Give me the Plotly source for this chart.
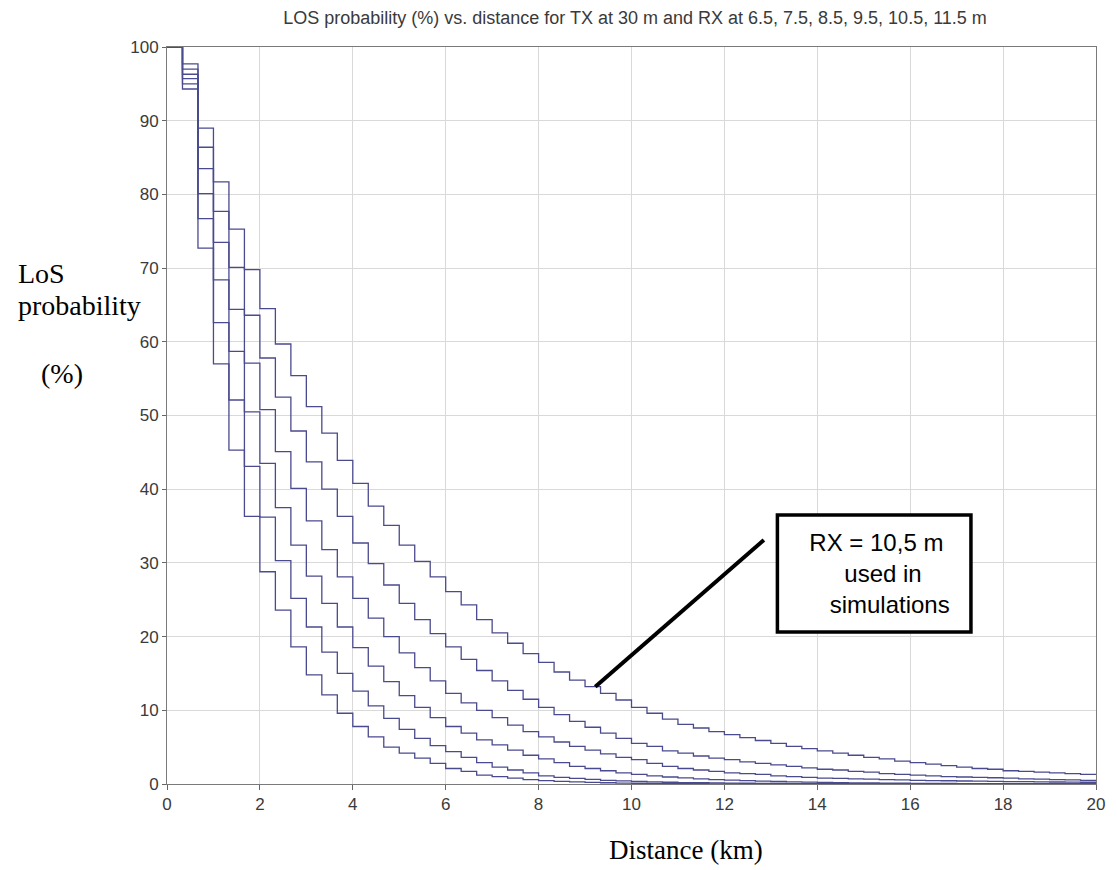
import plotly.graph_objects as go

# Distance steps (km): each plateau lasts 1/3 km, 60 plateaus from 0 to 20 km
step_start_km = [k / 3 for k in range(60)]
x_end_km = 20

rx_heights = ["6.5 m", "7.5 m", "8.5 m", "9.5 m", "10.5 m", "11.5 m"]

los_rx_6_5 = [100, 94.3, 72.7, 57.0, 45.3, 36.3, 28.8, 23.6, 18.6, 14.8,
              12.1, 9.6, 7.8, 6.4, 5.0, 4.2, 3.5, 2.8, 2.1, 1.7,
              1.2, 1.0, 0.8, 0.6, 0.45, 0.35, 0.28, 0.22, 0.17, 0.13,
              0.1, 0.08, 0.06, 0.05, 0.04, 0.03, 0.03, 0.02, 0.02, 0.02,
              0.01, 0.01, 0.01, 0.01, 0.01, 0.01, 0.01, 0.01, 0.01, 0.01,
              0.01, 0.01, 0.01, 0.01, 0.01, 0.01, 0.01, 0.01, 0.01, 0.01]
los_rx_7_5 = [100, 95.0, 76.7, 62.6, 52.1, 43.1, 36.2, 30.3, 25.2, 21.3,
              17.9, 15.0, 12.6, 10.6, 8.9, 7.4, 6.2, 5.2, 4.4, 3.6,
              2.9, 2.3, 1.9, 1.5, 1.1, 0.9, 0.75, 0.62, 0.5, 0.42,
              0.35, 0.29, 0.24, 0.2, 0.17, 0.14, 0.12, 0.1, 0.08, 0.07,
              0.06, 0.05, 0.04, 0.04, 0.03, 0.03, 0.03, 0.02, 0.02, 0.02,
              0.02, 0.02, 0.01, 0.01, 0.01, 0.01, 0.01, 0.01, 0.01, 0.01]
los_rx_8_5 = [100, 95.7, 80.1, 68.4, 58.7, 50.5, 43.5, 37.5, 32.4, 28.2,
              24.5, 21.3, 18.5, 16.0, 13.9, 12.0, 10.4, 9.0, 7.8, 6.9,
              6.0, 5.3, 4.6, 3.9, 3.4, 2.9, 2.4, 2.1, 1.8, 1.5,
              1.3, 1.1, 0.95, 0.82, 0.7, 0.6, 0.52, 0.45, 0.39, 0.34,
              0.29, 0.25, 0.22, 0.19, 0.16, 0.14, 0.12, 0.1, 0.09, 0.08,
              0.07, 0.06, 0.05, 0.05, 0.04, 0.04, 0.03, 0.03, 0.03, 0.03]
los_rx_9_5 = [100, 96.3, 83.5, 73.5, 64.4, 57.1, 50.8, 45.1, 40.1, 35.7,
              31.8, 28.1, 25.2, 22.5, 20.0, 17.8, 15.8, 14.0, 12.3, 11.0,
              10.0, 9.0, 8.0, 7.1, 6.4, 5.7, 5.1, 4.6, 4.1, 3.6,
              3.3, 2.8, 2.4, 2.1, 1.9, 1.7, 1.5, 1.4, 1.3, 1.1,
              1.0, 0.9, 0.8, 0.75, 0.7, 0.65, 0.6, 0.55, 0.5, 0.47,
              0.44, 0.41, 0.38, 0.35, 0.33, 0.31, 0.29, 0.27, 0.25, 0.24]
los_rx_10_5 = [100, 97.0, 86.4, 77.7, 70.1, 63.6, 57.8, 52.5, 47.9, 43.7,
               40.0, 36.3, 32.7, 29.9, 27.0, 24.5, 22.3, 20.4, 18.6, 16.9,
               15.4, 14.0, 12.7, 11.5, 10.4, 9.4, 8.5, 7.7, 6.9, 6.2,
               5.5, 5.1, 4.5, 4.2, 3.8, 3.5, 3.3, 3.0, 2.8, 2.6,
               2.4, 2.2, 2.0, 1.9, 1.7, 1.6, 1.4, 1.3, 1.2, 1.1,
               1.0, 0.95, 0.9, 0.85, 0.8, 0.7, 0.65, 0.6, 0.55, 0.5]
los_rx_11_5 = [100, 97.7, 89.0, 81.7, 75.3, 69.8, 64.5, 59.7, 55.4, 51.2,
               47.6, 43.9, 40.8, 37.7, 35.1, 32.4, 30.2, 28.1, 26.1, 24.3,
               22.3, 20.5, 19.1, 17.7, 16.5, 15.2, 14.1, 13.2, 12.3, 11.4,
               10.4, 9.6, 8.8, 8.1, 7.6, 7.1, 6.7, 6.3, 5.9, 5.5,
               5.1, 4.8, 4.5, 4.2, 3.9, 3.6, 3.4, 3.1, 2.9, 2.7,
               2.5, 2.3, 2.1, 2.0, 1.8, 1.7, 1.6, 1.5, 1.4, 1.3]

series = [los_rx_6_5, los_rx_7_5, los_rx_8_5, los_rx_9_5, los_rx_10_5, los_rx_11_5]

x_ticks = [0, 2, 4, 6, 8, 10, 12, 14, 16, 18, 20]
y_ticks = [0, 10, 20, 30, 40, 50, 60, 70, 80, 90, 100]

title_text = "LOS probability (%) vs. distance for TX at 30 m and RX at 6.5, 7.5, 8.5, 9.5, 10.5, 11.5 m"
callout_text = "RX = 10,5 m<br>&nbsp;&nbsp;used in<br>&nbsp;&nbsp;&nbsp;&nbsp;simulations"

fig = go.Figure()
for name, vals in zip(rx_heights, series):
    xs = step_start_km + [x_end_km]
    ys = vals + [vals[-1]]
    fig.add_trace(go.Scatter(x=xs, y=ys, mode="lines", name=name,
                             line=dict(shape="hv", color="#4a4a8e", width=1.3),
                             showlegend=False))

W, H = 1117, 870
L, R, T, B = 167, 14, 47, 86
pw, ph = W - L - R, H - T - B


def px(xp):
    return (xp - L) / pw


def py(yp):
    return (H - B - yp) / ph


axis_font = dict(family="Liberation Sans, Arial", size=17, color="#3a3a3a")
fig.update_layout(
    width=W, height=H,
    margin=dict(l=L, r=R, t=T, b=B, pad=0),
    paper_bgcolor="white", plot_bgcolor="white",
    title=dict(text=title_text, x=635 / W, xanchor="center",
               y=1 - 18 / H, yanchor="middle",
               font=dict(family="Liberation Sans, Arial", size=18, color="#3a3a3a")),
    xaxis=dict(range=[0, 20], tickvals=x_ticks, ticks="outside", ticklen=5,
               tickcolor="#666", showgrid=True, gridcolor="#d9d9d9", gridwidth=1,
               showline=True, linecolor="#7a7a7a", linewidth=1, mirror=True,
               zeroline=False, tickfont=axis_font),
    yaxis=dict(range=[0, 100], tickvals=y_ticks, ticks="outside", ticklen=4,
               tickcolor="#666", showgrid=True, gridcolor="#d9d9d9", gridwidth=1,
               showline=True, linecolor="#7a7a7a", linewidth=1, mirror=True,
               zeroline=False, tickfont=axis_font),
)

serif = "Liberation Serif, Times New Roman"
ann = [
    dict(text="LoS", x=px(15), y=py(273), xanchor="left", font_size=28),
    dict(text="probability", x=px(15), y=py(306), xanchor="left", font_size=28),
    dict(text="(%)", x=px(38), y=py(373), xanchor="left", font_size=28),
    dict(text="Distance (km)", x=px(690), y=py(850), xanchor="center", font_size=27),
]
for a in ann:
    fig.add_annotation(text=a["text"], x=a["x"], y=a["y"], xref="paper", yref="paper",
                       xanchor=a["xanchor"], yanchor="middle", showarrow=False,
                       font=dict(family=serif, size=a["font_size"], color="black"))

# Callout box and leader line
fig.add_shape(type="line", xref="x", yref="y", x0=9.22, y0=13.2, x1=12.85, y1=33.1,
              line=dict(color="black", width=4), layer="above")
fig.add_shape(type="rect", xref="paper", yref="paper", x0=px(782), x1=px(977),
              y0=py(632), y1=py(515), line=dict(color="black", width=3.5),
              fillcolor="white", layer="above")
fig.add_annotation(text=callout_text, x=px(882), y=py(573), xref="paper", yref="paper",
                   xanchor="center", yanchor="middle", align="center", showarrow=False,
                   font=dict(family="Liberation Sans, Arial", size=24, color="black"))

fig.write_html("out.html")
